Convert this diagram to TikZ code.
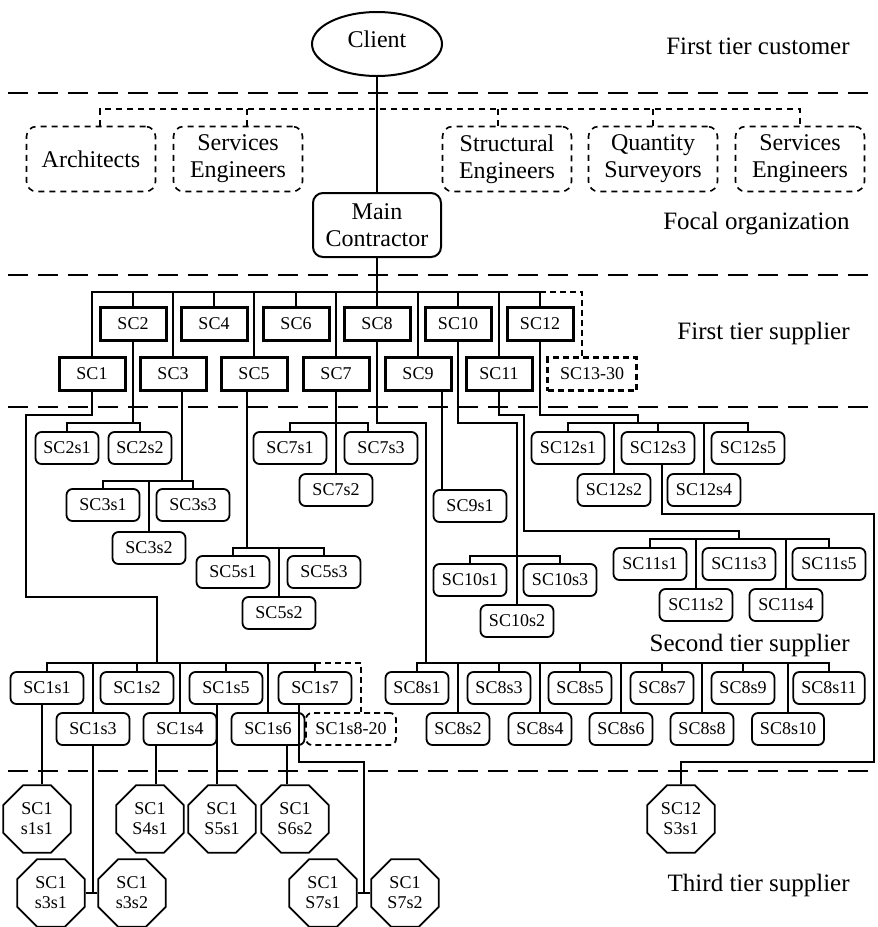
\documentclass[tikz,border=0pt]{standalone}
\usepackage{fontspec}
\setmainfont{Liberation Serif}
\usetikzlibrary{shapes.geometric}

\begin{document}
\begin{tikzpicture}[x=0.5pt,y=-0.5pt,
    tierline/.style ={dashed, dash pattern=on 10pt off 5pt, line width=1.2pt},
    tierlabel/.style ={anchor=east, inner sep=0pt, font=\fontsize{12.5}{14}\selectfont},
    link/.style ={line width=0.9pt},
    mainlink/.style ={line width=1.3pt},
    customer/.style ={draw, ellipse, line width=1pt, minimum width=65pt, minimum height=32pt, text depth=5pt, font=\fontsize{12}{13.5}\selectfont},
    focal/.style ={draw, line width=1pt, rounded corners=5pt, minimum width=64pt, minimum height=32pt, inner sep=0pt, align=center, font=\fontsize{12}{13.5}\selectfont},
    consultant/.style ={draw, dashed, dash pattern=on 3pt off 2.5pt, line width=0.8pt, rounded corners=5pt, minimum width=64.5pt, minimum height=32.5pt, inner sep=0pt, align=center, font=\fontsize{12}{13.5}\selectfont},
    consultlink/.style ={dashed, dash pattern=on 3pt off 2.5pt, line width=0.8pt},
    morelink/.style ={dashed, dash pattern=on 3pt off 2pt, line width=0.8pt},
    firsttier/.style ={draw, line width=1.5pt, minimum width=33pt, minimum height=16.5pt, inner sep=0pt, font=\fontsize{9}{10}\selectfont},
    firstmore/.style ={firsttier, dashed, dash pattern=on 3pt off 2pt, line width=1.2pt, minimum width=44.5pt},
    secondtier/.style ={draw, line width=0.9pt, rounded corners=3pt, minimum height=16pt, inner xsep=4pt, inner ysep=0pt, font=\fontsize{9}{10}\selectfont},
    secondwide/.style ={secondtier, minimum width=36.5pt},
    secondmore/.style ={secondwide, dashed, dash pattern=on 3pt off 2pt, minimum width=45pt},
    thirdtier/.style ={draw, line width=0.9pt, regular polygon, regular polygon sides=8, minimum size=36.5pt, inner sep=0pt, align=center, font=\fontsize{9}{10}\selectfont}]
   \useasboundingbox (0,0) rectangle (878,927);

   \draw[tierline] (8,93) -- (878,93);
   \draw[tierline] (8,275) -- (878,275);
   \draw[tierline] (8,407) -- (878,407);
   \draw[tierline] (8,771) -- (878,771);

   \node[tierlabel] (customerlabel) at (850,46) {First tier customer};
   \node[tierlabel] (focallabel) at (850,224) {Focal organization};
   \node[tierlabel] (firstlabel) at (850,333) {First tier supplier};
   \node[tierlabel] (secondlabel) at (850,645) {Second tier supplier};
   \node[tierlabel] (thirdlabel) at (850,885) {Third tier supplier};

   \node[customer] (client) at (377,44) {Client};
   \node[consultant] (arch) at (91,159) {Architects};
   \node[consultant] (servl) at (238,159) {Services\\Engineers};
   \node[consultant] (struct) at (507,159) {Structural\\Engineers};
   \node[consultant] (qs) at (653,159) {Quantity\\Surveyors};
   \node[consultant] (servr) at (800,159) {Services\\Engineers};
   \node[focal] (mc) at (377,225) {Main\\Contractor};

   \node[firsttier] (sc1) at (92,374) {SC1};
   \node[firsttier] (sc2) at (133,324) {SC2};
   \node[firsttier] (sc3) at (173,374) {SC3};
   \node[firsttier] (sc4) at (214,324) {SC4};
   \node[firsttier] (sc5) at (254,374) {SC5};
   \node[firsttier] (sc6) at (296,324) {SC6};
   \node[firsttier] (sc7) at (336,374) {SC7};
   \node[firsttier] (sc8) at (377,324) {SC8};
   \node[firsttier] (sc9) at (418,374) {SC9};
   \node[firsttier] (sc10) at (458,324) {SC10};
   \node[firsttier] (sc11) at (499,374) {SC11};
   \node[firsttier] (sc12) at (540,324) {SC12};
   \node[firstmore] (sc13) at (592,374) {SC13-30};

   \node[secondtier] (sc2s1) at (67,448) {SC2s1};
   \node[secondtier] (sc2s2) at (140,448) {SC2s2};
   \node[secondwide] (sc3s1) at (103,505) {SC3s1};
   \node[secondwide] (sc3s2) at (149,548) {SC3s2};
   \node[secondwide] (sc3s3) at (193,505) {SC3s3};
   \node[secondwide] (sc5s1) at (233,572) {SC5s1};
   \node[secondwide] (sc5s2) at (279,613) {SC5s2};
   \node[secondwide] (sc5s3) at (324,572) {SC5s3};
   \node[secondwide] (sc7s1) at (290,448) {SC7s1};
   \node[secondwide] (sc7s2) at (336,490) {SC7s2};
   \node[secondwide] (sc7s3) at (381,448) {SC7s3};
   \node[secondwide] (sc9s1) at (470,506) {SC9s1};
   \node[secondwide] (sc10s1) at (470,580) {SC10s1};
   \node[secondwide] (sc10s2) at (517,621) {SC10s2};
   \node[secondwide] (sc10s3) at (560,580) {SC10s3};
   \node[secondwide] (sc11s1) at (650,564) {SC11s1};
   \node[secondwide] (sc11s2) at (696,605) {SC11s2};
   \node[secondwide] (sc11s3) at (739,564) {SC11s3};
   \node[secondwide] (sc11s4) at (786,605) {SC11s4};
   \node[secondwide] (sc11s5) at (829,564) {SC11s5};
   \node[secondwide] (sc12s1) at (568,448) {SC12s1};
   \node[secondwide] (sc12s2) at (614,490) {SC12s2};
   \node[secondwide] (sc12s3) at (658,448) {SC12s3};
   \node[secondwide] (sc12s4) at (704,490) {SC12s4};
   \node[secondwide] (sc12s5) at (748,448) {SC12s5};
   \node[secondwide] (sc1s1) at (47,688) {SC1s1};
   \node[secondwide] (sc1s2) at (137,688) {SC1s2};
   \node[secondwide] (sc1s3) at (93,729) {SC1s3};
   \node[secondwide] (sc1s4) at (180,729) {SC1s4};
   \node[secondwide] (sc1s5) at (226,688) {SC1s5};
   \node[secondwide] (sc1s6) at (268,729) {SC1s6};
   \node[secondwide] (sc1s7) at (315,688) {SC1s7};
   \node[secondmore] (sc1s8) at (351,729) {SC1s8-20};
   \node[secondtier] (sc8s1) at (417,688) {SC8s1};
   \node[secondtier] (sc8s2) at (458,729) {SC8s2};
   \node[secondtier] (sc8s3) at (499,688) {SC8s3};
   \node[secondtier] (sc8s4) at (540,729) {SC8s4};
   \node[secondtier] (sc8s5) at (580,688) {SC8s5};
   \node[secondtier] (sc8s6) at (621,729) {SC8s6};
   \node[secondtier] (sc8s7) at (662,688) {SC8s7};
   \node[secondtier] (sc8s8) at (702,729) {SC8s8};
   \node[secondtier] (sc8s9) at (743,688) {SC8s9};
   \node[secondtier] (sc8s10) at (788,729) {SC8s10};
   \node[secondtier] (sc8s11) at (829,688) {SC8s11};

   \node[thirdtier] (o1s1s1) at (37,819) {SC1\\s1s1};
   \node[thirdtier] (o1s3s1) at (51,893) {SC1\\s3s1};
   \node[thirdtier] (o1s3s2) at (132,893) {SC1\\s3s2};
   \node[thirdtier] (o1s4s1) at (150,819) {SC1\\S4s1};
   \node[thirdtier] (o1s5s1) at (222,819) {SC1\\S5s1};
   \node[thirdtier] (o1s6s2) at (295,819) {SC1\\S6s2};
   \node[thirdtier] (o1s7s1) at (323,893) {SC1\\S7s1};
   \node[thirdtier] (o1s7s2) at (405,893) {SC1\\S7s2};
   \node[thirdtier] (o12s3s1) at (681,819) {SC12\\S3s1};

   \coordinate (cb) at (450,109);
   \coordinate (fb) at (377,292);
   \coordinate (b1) at (157,663);
   \coordinate (b2) at (133,423);
   \coordinate (b3) at (182,481);
   \coordinate (b5) at (247,548);
   \coordinate (b7) at (330,423);
   \coordinate (b8) at (426,663);
   \coordinate (b10) at (517,556);
   \coordinate (b11) at (739,539);
   \coordinate (b12) at (638,423);
   \coordinate (t7) at (364,762);
   \coordinate (j7) at (364,893);
   \coordinate (t12) at (681,762);

   \draw[consultlink] ([xshift=4.5pt]arch.north) |- (cb) -| (servr.north);
   \draw[consultlink] ([xshift=4.5pt]servl.north) -- ([xshift=4.5pt]servl.north |- cb);
   \draw[consultlink] ([xshift=-4.5pt]struct.north) -- ([xshift=-4.5pt]struct.north |- cb);
   \draw[consultlink] (qs.north) -- (qs.north |- cb);
   \draw[mainlink] (client.south) -- (mc.north);
   \draw[mainlink] (mc.south) -- (fb);

   \draw[link] (sc1.north) |- (fb) -| (sc12.north);
   \draw[morelink, line width=1.2pt] (sc12.north |- fb) -| ([xshift=-5pt]sc13.north);
   \foreach \n in {sc2,sc3,sc4,sc5,sc6,sc7,sc8,sc9,sc10,sc11}
      \draw[link] (\n.north) -- (\n.north |- fb);

   \draw[link] (sc1.south) |- (26,415) |- (157,597) -- (b1);
   \draw[link] (sc1s1.north) |- (b1) -| (sc1s7.north);
   \draw[morelink] (sc1s7.north |- b1) -| ([xshift=5pt]sc1s8.north);
   \foreach \n in {sc1s2,sc1s3,sc1s4,sc1s5,sc1s6}
      \draw[link] (\n.north) -- (\n.north |- b1);

   \draw[link] (sc2.south) -- (b2);
   \draw[link] (sc2s1.north) |- (b2) -| (sc2s2.north);

   \draw[link] ([xshift=4.5pt]sc3.south) -- (b3);
   \draw[link] (sc3s1.north) |- (b3) -| (sc3s3.north);
   \draw[link] (sc3s2.north) -- (sc3s2.north |- b3);

   \draw[link] ([xshift=-3.5pt]sc5.south) -- (b5);
   \draw[link] (sc5s1.north) |- (b5) -| (sc5s3.north);
   \draw[link] (sc5s2.north) -- (sc5s2.north |- b5);

   \draw[link] (sc7.south) -- (sc7s2.north);
   \draw[link] (sc7s1.north) |- (b7) -| ([xshift=-6.5pt]sc7s3.north);

   \draw[link] (sc8.south) |- (426,423) -- (b8);
   \draw[link] (sc8s1.north) |- (b8) -| (sc8s11.north);
   \foreach \n in {sc8s2,sc8s3,sc8s4,sc8s5,sc8s6,sc8s7,sc8s8,sc8s9,sc8s10}
      \draw[link] (\n.north) -- (\n.north |- b8);

   \draw[link] ([xshift=12pt]sc9.south) -- ([xshift=12pt]sc9.south |- sc9s1.north);

   \draw[link] (sc10.south) |- (517,423) -- (sc10s2.north);
   \draw[link] (sc10s1.north) |- (b10) -| (sc10s3.north);

   \draw[link] (sc11.south) |- (524,415) |- (739,531) -- (b11);
   \draw[link] (sc11s1.north) |- (b11) -| (sc11s5.north);
   \foreach \n in {sc11s2,sc11s4}
      \draw[link] (\n.north) -- (\n.north |- b11);

   \draw[link] (sc12.south) |- (638,415) -- (b12);
   \draw[link] (sc12s1.north) |- (b12) -| (sc12s5.north);
   \foreach \n in {sc12s2,sc12s3,sc12s4}
      \draw[link] (\n.north) -- (\n.north |- b12);
   \draw[link] ([xshift=2pt]sc12s3.south) |- (874,514) |- (t12) -- (o12s3s1.north);

   \draw[link] ([xshift=2.5pt]o1s1s1.north) -- ([xshift=2.5pt]o1s1s1.north |- sc1s1.south);
   \draw[link] (sc1s3.south) -- (sc1s3.south |- o1s3s1.east);
   \draw[link] (o1s3s1.east) -- (o1s3s2.west);
   \draw[link] ([xshift=3pt]o1s4s1.north) -- ([xshift=3pt]o1s4s1.north |- sc1s4.south);
   \draw[link] ([xshift=-2.5pt]o1s5s1.north) -- ([xshift=-2.5pt]o1s5s1.north |- sc1s5.south);
   \draw[link] ([xshift=-4pt]o1s6s2.north) -- ([xshift=-4pt]o1s6s2.north |- sc1s6.south);
   \draw[link] ([xshift=-8pt]sc1s7.south) |- (t7) -- (j7);
   \draw[link] (o1s7s1.east) -- (o1s7s2.west);
 \end{tikzpicture}
\end{document}
